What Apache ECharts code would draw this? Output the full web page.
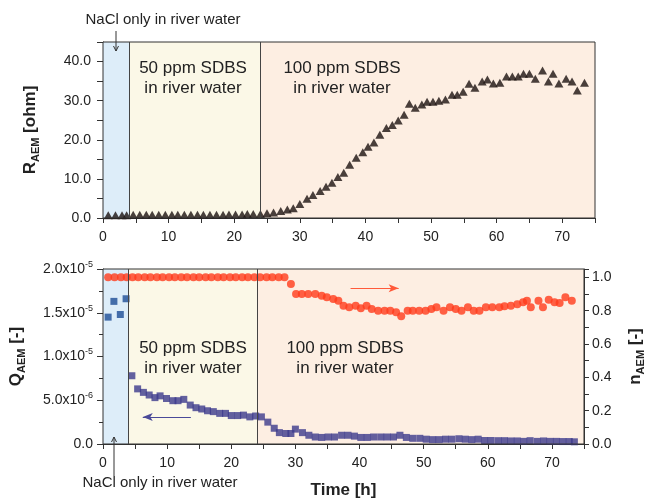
<!DOCTYPE html>
<html><head><meta charset="utf-8">
<script src="https://cdn.jsdelivr.net/npm/echarts@6/dist/echarts.min.js"></script>
<style>html,body{margin:0;padding:0;background:#fff}#c{width:654px;height:501px}</style>
</head><body><div id="c"></div><script>
// ---- data ----
const phaseBounds = [0, 4, 24, 75];           // NaCl only | 50 ppm SDBS | 100 ppm SDBS
const xTickLabels = [0, 10, 20, 30, 40, 50, 60, 70];

const rTime = [0.8,1.9,2.9,3.6,4.6,5.6,6.6,7.5,8.5,9.5,10.5,11.4,12.4,13.4,14.4,15.3,16.3,17.3,18.3,19.2,20.2,21.2,22.0,22.9,24.0,25.0,26.0,27.1,28.1,29.0,30.0,31.1,32.0,33.1,34.0,34.9,35.8,36.7,37.6,38.6,39.6,40.4,41.3,42.2,43.2,44.1,45.0,45.9,46.7,47.6,48.6,49.4,50.3,51.2,52.2,53.2,54.0,54.9,55.8,56.7,57.8,58.6,59.5,60.5,61.5,62.4,63.3,64.1,65.0,65.9,67.0,67.9,68.6,69.5,70.6,71.5,72.3,73.4];
const rVal  = [0.7,0.7,0.7,0.7,0.8,0.8,0.8,0.8,0.8,0.8,0.8,0.8,0.8,0.8,0.8,0.8,0.8,0.8,0.8,0.9,0.9,0.9,1.0,1.0,1.0,1.2,1.4,1.8,2.2,2.5,3.6,4.9,5.9,6.9,8.0,9.0,10.5,11.6,13.6,15.4,16.8,18.2,19.3,21.3,23.0,23.8,24.9,26.4,29.2,28.2,29.0,29.7,29.7,30.0,30.3,31.5,31.5,32.3,34.3,33.3,34.9,35.4,34.4,34.6,36.2,36.2,36.2,36.9,36.9,35.6,37.7,34.9,36.9,34.4,35.6,34.9,32.6,34.6];

const qTime = [0.8,1.7,2.7,3.6,4.5,5.4,6.3,7.2,8.1,8.9,9.9,10.9,11.7,12.6,13.6,14.5,15.4,16.3,17.2,18.2,19.1,20.0,21.0,21.9,22.9,23.8,24.7,25.7,26.7,27.5,28.5,29.3,30.0,31.1,32.1,33.1,34.1,35.1,36.1,37.2,38.2,39.2,40.2,41.2,42.2,43.3,44.3,45.3,46.3,47.3,48.3,49.4,50.4,51.4,52.4,53.4,54.4,55.5,56.5,57.5,58.5,59.5,60.5,61.6,62.6,63.6,64.6,65.6,66.6,67.7,68.7,69.7,70.7,71.7,72.7,73.5];
const qVal  = [1.45e-5,1.63e-5,1.48e-5,1.66e-5,7.8e-6,6.3e-6,5.9e-6,5.6e-6,5.3e-6,5.5e-6,5.2e-6,4.95e-6,4.95e-6,5.1e-6,4.45e-6,4.15e-6,4.0e-6,3.8e-6,3.7e-6,3.5e-6,3.5e-6,3.25e-6,3.25e-6,3.3e-6,3.1e-6,3.2e-6,3.1e-6,2.5e-6,1.8e-6,1.3e-6,1.2e-6,1.2e-6,1.7e-6,1.3e-6,1.0e-6,8.0e-7,7.5e-7,8.0e-7,8.0e-7,1.0e-6,1.0e-6,9.0e-7,7.5e-7,7.5e-7,8.0e-7,8.0e-7,8.0e-7,8.0e-7,1.0e-6,7.5e-7,6.5e-7,6.5e-7,5.5e-7,5.0e-7,5.0e-7,5.5e-7,5.5e-7,6.0e-7,5.5e-7,5.0e-7,5.5e-7,4.0e-7,4.0e-7,3.8e-7,3.8e-7,3.5e-7,3.5e-7,3.0e-7,3.8e-7,3.0e-7,3.5e-7,3.0e-7,3.0e-7,2.8e-7,2.8e-7,2.5e-7];

const nTime = [0.8,1.8,2.8,3.7,4.6,5.5,6.5,7.4,8.4,9.3,10.3,11.2,12.2,13.1,14.1,15.0,16.0,16.9,17.9,18.8,19.8,20.7,21.7,22.6,23.6,24.5,25.5,26.4,27.4,28.3,29.3,30.1,31.0,32.0,33.1,34.1,34.9,35.9,36.7,37.5,38.4,39.4,40.2,41.1,41.9,42.9,43.9,44.8,45.7,46.5,47.5,48.3,49.3,50.3,51.2,52.0,53.1,54.1,55.0,55.9,56.9,57.8,58.7,59.7,60.7,61.8,62.6,63.6,64.6,65.5,66.1,66.7,67.9,68.6,69.5,70.4,71.2,72.1,73.1];
const nVal  = [1.0,1.0,1.0,1.0,1.0,1.0,1.0,1.0,1.0,1.0,1.0,1.0,1.0,1.0,1.0,1.0,1.0,1.0,1.0,1.0,1.0,1.0,1.0,1.0,1.0,1.0,1.0,1.0,1.0,1.0,0.96,0.90,0.90,0.90,0.90,0.89,0.88,0.87,0.86,0.83,0.82,0.83,0.815,0.83,0.81,0.80,0.80,0.80,0.79,0.766,0.80,0.80,0.80,0.80,0.81,0.82,0.80,0.82,0.81,0.80,0.82,0.80,0.80,0.82,0.82,0.82,0.826,0.83,0.838,0.85,0.86,0.82,0.86,0.82,0.866,0.85,0.846,0.88,0.86];

// annotation arrows (data coordinates)
const qArrow = [[13.7, 3.1e-6], [6.2, 3.1e-6]];
const nArrow = [[38.6, 0.934], [46.1, 0.934]];

// ---- chart ----
const FONT = '"Liberation Sans", Arial, Helvetica, sans-serif';
const TXT = '#222';
const pairs = (t, v) => t.map((x, i) => [x, v[i]]);
const phaseColors = ['#ddedf9', '#fbf8e7', '#fdeee2'];
const areas = phaseColors.map((c, i) => [
  { xAxis: phaseBounds[i], itemStyle: { color: c, opacity: 1 } },
  { xAxis: phaseBounds[i + 1] }
]);
const vlines = [{ xAxis: phaseBounds[1] }, { xAxis: phaseBounds[2] }];

function xAx(gi, extra) {
  return Object.assign({
    gridIndex: gi, type: 'value', min: phaseBounds[0], max: phaseBounds[3], interval: 5,
    axisLine: { show: true, onZero: false, lineStyle: { color: '#333', width: 1 } },
    axisTick: { show: true, length: 5, lineStyle: { color: '#333' } },
    splitLine: { show: false },
    axisLabel: { fontSize: 14, color: TXT, fontFamily: FONT, margin: 12,
      formatter: v => xTickLabels.indexOf(v) >= 0 ? String(v) : '' }
  }, extra || {});
}
const subName = (main, sub, tail) => '{a|' + main + '}{b|' + sub + '}{a|' + tail + '}';
const nameRich = { rich: {
  a: { fontSize: 17, fontWeight: 'bold', color: TXT, fontFamily: FONT },
  b: { fontSize: 11, fontWeight: 'bold', color: TXT, fontFamily: FONT, padding: [10, 0, 0, 0] } } };
const annoText = (x, y, t) => ({ type: 'text', x: x, y: y, z: 100,
  style: { text: t, font: '17px ' + FONT, fill: TXT, textAlign: 'center', textVerticalAlign: 'middle', lineHeight: 20 } });

const option = {
  animation: false,
  backgroundColor: '#fff',
  textStyle: { fontFamily: FONT },
  grid: [
    { left: 103, top: 42, width: 492, height: 176, show: true, z: 5, backgroundColor: 'transparent', borderColor: '#333', borderWidth: 1 },
    { left: 103, top: 269, width: 491, height: 175, show: true, z: 5, backgroundColor: 'transparent', borderColor: '#333', borderWidth: 1 }
  ],
  xAxis: [
    xAx(0),
    xAx(1, { name: 'Time [h]', nameLocation: 'middle', nameGap: 38,
      nameTextStyle: { fontSize: 17, fontWeight: 'bold', color: TXT, fontFamily: FONT } })
  ],
  yAxis: [
    { gridIndex: 0, type: 'value', min: 0, max: 45, interval: 5,
      axisLine: { show: true, lineStyle: { color: '#333' } },
      axisTick: { show: true, length: 6, lineStyle: { color: '#333' } },
      splitLine: { show: false },
      axisLabel: { fontSize: 14, color: TXT, fontFamily: FONT, margin: 12,
        formatter: v => (v % 10 === 0 && v <= 40) ? v.toFixed(1) : '' },
      name: subName('R', 'AEM', ' [ohm]'), nameLocation: 'middle', nameRotate: 90, nameGap: 62,
      nameTextStyle: nameRich },
    { gridIndex: 1, type: 'value', min: 0, max: 2e-5, interval: 5e-6,
      axisLine: { show: true, lineStyle: { color: '#333' } },
      axisTick: { show: true, length: 6, lineStyle: { color: '#333' } },
      minorTick: { show: true, splitNumber: 2, length: 4, lineStyle: { color: '#333' } },
      splitLine: { show: false },
      axisLabel: { fontSize: 14, color: TXT, fontFamily: FONT, margin: 10,
        formatter: v => {
          if (v === 0) return '0.0';
          const e = Math.floor(Math.log10(v) + 1e-9);
          const m = v / Math.pow(10, e);
          return '{n|' + m.toFixed(1) + 'x10}{s|' + e + '}';
        },
        rich: { n: { fontSize: 14, color: TXT, fontFamily: FONT },
                s: { fontSize: 9, color: TXT, fontFamily: FONT, padding: [0, 0, 9, 0] } } },
      name: subName('Q', 'AEM', ' [-]'), nameLocation: 'middle', nameRotate: 90, nameGap: 76,
      nameTextStyle: nameRich },
    { gridIndex: 1, type: 'value', position: 'right', min: 0, max: 1.05, interval: 0.1,
      axisLine: { show: true, lineStyle: { color: '#333' } },
      axisTick: { show: true, length: 5, lineStyle: { color: '#333' } },
      splitLine: { show: false },
      axisLabel: { fontSize: 14, color: TXT, fontFamily: FONT, margin: 8,
        formatter: v => { const k = Math.round(v * 10);
          return (Math.abs(v * 10 - k) < 1e-6 && k % 2 === 0 && k <= 10) ? (k / 10).toFixed(1) : ''; } },
      name: subName('n', 'AEM', ' [-]'), nameLocation: 'middle', nameRotate: 90, nameGap: 41,
      nameTextStyle: nameRich }
  ],
  series: [
    { type: 'scatter', xAxisIndex: 0, yAxisIndex: 0, data: pairs(rTime, rVal),
      symbol: 'triangle', symbolSize: [9, 8], itemStyle: { color: '#1c1210' },
      markArea: { silent: true, data: areas },
      markLine: { silent: true, symbol: ['none', 'none'], label: { show: false },
        lineStyle: { color: '#444', width: 1, type: 'solid' }, data: vlines } },
    { type: 'scatter', xAxisIndex: 1, yAxisIndex: 1, data: pairs(qTime, qVal),
      symbol: 'rect', symbolSize: 7,
      itemStyle: { color: p => p.value[0] < phaseBounds[1] ? '#1d4c96' : '#3c398c' },
      markArea: { silent: true, data: areas },
      markLine: { silent: true, symbol: ['none', 'none'], label: { show: false },
        lineStyle: { color: '#444', width: 1, type: 'solid' },
        data: vlines.concat([[
          { coord: qArrow[0], symbol: 'none', lineStyle: { color: '#4a4a98', width: 1 } },
          { coord: qArrow[1], symbol: 'arrow', symbolSize: [6, 10] }
        ]]) } },
    { type: 'scatter', xAxisIndex: 1, yAxisIndex: 2, data: pairs(nTime, nVal),
      symbol: 'circle', symbolSize: 8, itemStyle: { color: '#ff3b1c' },
      markLine: { silent: true, symbol: ['none', 'arrow'], symbolSize: [6, 10], label: { show: false },
        lineStyle: { color: '#ff5a3a', width: 1, type: 'solid' },
        data: [[{ coord: nArrow[0] }, { coord: nArrow[1] }]] } }
  ],
  graphic: [
    { type: 'text', x: 163, y: 20, z: 100, style: { text: 'NaCl only in river water', font: '15px ' + FONT, fill: TXT, textAlign: 'center', textVerticalAlign: 'middle' } },
    { type: 'line', z: 100, shape: { x1: 116, y1: 31, x2: 116, y2: 51 }, style: { stroke: '#333', lineWidth: 1 } },
    { type: 'polyline', z: 100, shape: { points: [[113.5, 46], [116, 51], [118.5, 46]] }, style: { stroke: '#333', lineWidth: 1, fill: null } },
    { type: 'text', x: 160, y: 483, z: 100, style: { text: 'NaCl only in river water', font: '15px ' + FONT, fill: TXT, textAlign: 'center', textVerticalAlign: 'middle' } },
    { type: 'line', z: 100, shape: { x1: 114, y1: 476, x2: 114, y2: 437 }, style: { stroke: '#333', lineWidth: 1 } },
    { type: 'polyline', z: 100, shape: { points: [[111.5, 442], [114, 437], [116.5, 442]] }, style: { stroke: '#333', lineWidth: 1, fill: null } },
    annoText(193, 78, '50 ppm SDBS\nin river water'),
    annoText(342, 78, '100 ppm SDBS\nin river water'),
    annoText(193, 358, '50 ppm SDBS\nin river water'),
    annoText(345, 358, '100 ppm SDBS\nin river water')
  ]
};
const chart = echarts.init(document.getElementById('c'));
chart.setOption(option);
</script></body></html>
